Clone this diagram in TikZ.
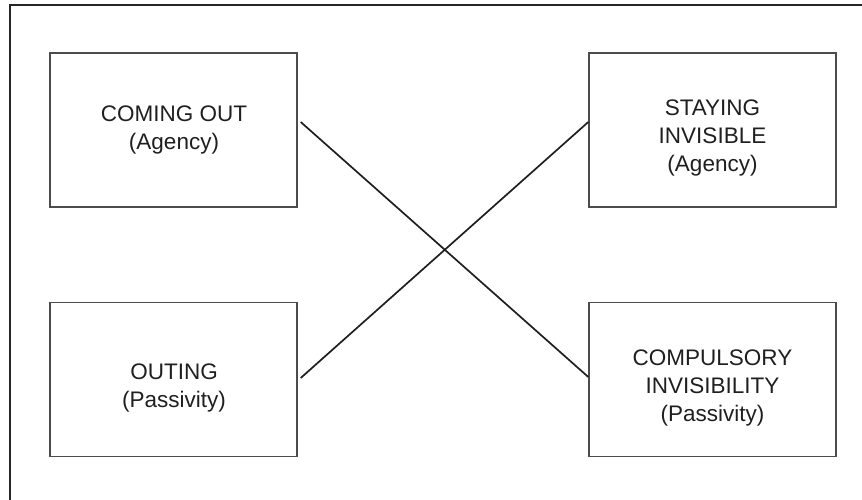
\documentclass[tikz,border=0pt]{standalone}
\usepackage{fontspec}
\setmainfont{Liberation Sans}
\begin{document}
\begin{tikzpicture}[x=1pt,y=-1pt,
  quad/.style={draw=black!70, line width=1.4pt, minimum width=247pt, minimum height=154pt, inner sep=0pt},
  quadtext/.style={align=center, text=black!88, font=\fontsize{22.5}{28}\selectfont, inner sep=0pt},
  link/.style={draw=black!88, line width=1.7pt},
  frameline/.style={draw=black!85, line width=1.5pt}]
\useasboundingbox (0,0) rectangle (862,500);
\coordinate (ftop) at (862,5);
\coordinate (fcorner) at (10,5);
\coordinate (fbot) at (10,500);
\draw[frameline] (ftop) -- (fcorner) -- (fbot);
\node[quad] (tl) at (173.5,130) {};
\node[quad] (tr) at (712.5,130) {};
\node[quad] (bl) at (173.5,379.5) {};
\node[quad] (br) at (712.5,379.5) {};
\node[quadtext] (tltext) at (174,130) {COMING OUT\\(Agency)};
\node[quadtext] (trtext) at (712.5,138) {STAYING\\INVISIBLE\\(Agency)};
\node[quadtext] (bltext) at (174,388) {OUTING\\(Passivity)};
\node[quadtext] (brtext) at (712.5,388) {COMPULSORY\\INVISIBILITY\\(Passivity)};
\draw[link] ([xshift=3pt,yshift=8pt]tl.east) -- ([yshift=2.5pt]br.west);
\draw[link] ([xshift=3pt,yshift=1.5pt]bl.west -| bl.east) -- ([yshift=8pt]tr.west);
\end{tikzpicture}
\end{document}
